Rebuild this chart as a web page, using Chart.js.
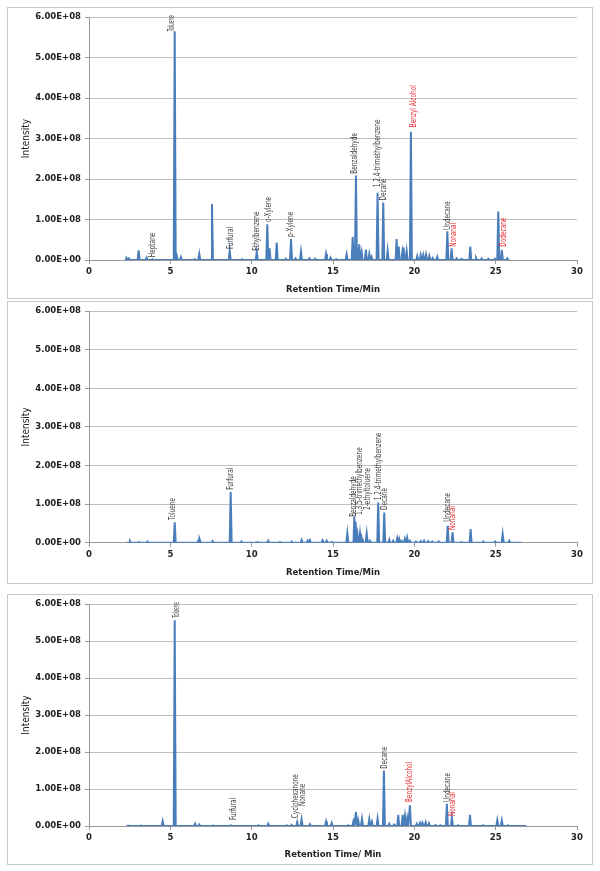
<!DOCTYPE html>
<html>
<head>
<meta charset="utf-8">
<script src="https://cdn.jsdelivr.net/npm/chart.js@4"></script>
<style>
  html, body { margin: 0; padding: 0; background: #fff; }
  body { width: 600px; height: 871px; position: relative; overflow: hidden; }
  .panel { position: absolute; left: 7px; width: 584px; border: 1px solid #c8c8c8; }
  .panel canvas { display: block; }
</style>
</head>
<body>
<div class="panel" id="box1" style="top:7px;height:290px"><canvas id="c1"></canvas></div>
<div class="panel" id="box2" style="top:301px;height:281px"><canvas id="c2"></canvas></div>
<div class="panel" id="box3" style="top:594px;height:269px"><canvas id="c3"></canvas></div>
<script>
// intensities below are in units of 1E+08
const UNIT = 1e8;
const Y_TICKS = [0, 1, 2, 3, 4, 5, 6];
const X_TICKS = [0, 5, 10, 15, 20, 25, 30];

// ── panel 1 ──────────────────────────────
const p1Range = [2.2, 25.85];
const p1Times = [2.30, 2.45, 3.05, 3.54, 3.90, 5.27, 5.40, 5.65, 6.50, 6.78, 7.56, 8.65, 9.40, 10.31, 10.96, 11.10, 11.54, 12.10, 12.42, 12.70,
  13.03, 13.55, 13.90, 14.57, 14.85, 15.20, 15.84, 16.21, 16.41, 16.61, 16.76, 17.02, 17.23, 17.37, 17.74, 18.09, 18.36, 18.91, 19.04, 19.26,
  19.36, 19.53, 19.79, 20.18, 20.39, 20.55, 20.72, 20.92, 21.13, 21.41, 22.03, 22.29, 22.60, 22.90, 23.44, 23.79, 24.14, 24.55, 24.96, 25.16,
  25.38, 25.71];
const p1Heights = [0.05, 0.04, 0.24, 0.06, 0.02, 5.65, 0.10, 0.07, 0.02, 0.15, 1.38, 0.23, 0.02, 0.20, 0.88, 0.29, 0.43, 0.03, 0.52, 0.04,
  0.21, 0.04, 0.03, 0.15, 0.06, 0.02, 0.14, 0.57, 2.09, 0.39, 0.20, 0.26, 0.15, 0.08, 1.66, 1.42, 0.23, 0.52, 0.33, 0.18,
  0.31, 0.22, 3.17, 0.10, 0.12, 0.12, 0.13, 0.10, 0.05, 0.08, 0.71, 0.29, 0.04, 0.03, 0.33, 0.05, 0.04, 0.03, 0.03, 1.20,
  0.25, 0.04];
const p1Names = ['Heptane', 'Toluene', 'Furfural', 'Ethylbenzene', 'o-Xylene', 'p-Xylene', 'Benzaldehyde', '1,2,4-trimethylbenzene', 'Decane', 'Benzyl Alcohol', 'Undecane', 'Nonanal', 'Dodecane'];
const p1NameT = [3.91, 5.12, 8.73, 10.31, 11.08, 12.42, 16.37, 17.74, 18.13, 19.98, 22.05, 22.42, 25.51];
const p1NameY = [0.07, 5.65, 0.27, 0.23, 0.94, 0.57, 2.13, 1.80, 1.47, 3.28, 0.74, 0.33, 0.33];
const p1Red = ['Benzyl Alcohol', 'Nonanal', 'Dodecane'];

// ── panel 2 ──────────────────────────────
const p2Range = [2.3, 26.6];
const p2Times = [2.52, 3.07, 3.60, 5.27, 6.72, 6.82, 7.60, 8.71, 9.38, 10.37, 11.02, 11.74, 12.46, 13.07, 13.44, 13.58, 14.36, 14.61, 14.92, 15.88,
  16.31, 16.41, 16.51, 16.66, 16.82, 17.07, 17.27, 17.78, 18.15, 18.46, 18.70, 18.95, 19.07, 19.22, 19.42, 19.56, 19.73, 20.10, 20.40, 20.60,
  20.85, 21.10, 21.50, 22.05, 22.35, 22.90, 23.46, 24.24, 24.96, 25.43, 25.84];
const p2Heights = [0.04, 0.02, 0.03, 0.53, 0.05, 0.09, 0.04, 1.31, 0.03, 0.02, 0.05, 0.02, 0.03, 0.07, 0.05, 0.07, 0.06, 0.05, 0.02, 0.24,
  0.67, 0.55, 0.20, 0.24, 0.08, 0.24, 0.05, 1.04, 0.78, 0.08, 0.05, 0.12, 0.10, 0.05, 0.10, 0.13, 0.05, 0.03, 0.04, 0.05,
  0.04, 0.03, 0.03, 0.44, 0.27, 0.02, 0.35, 0.03, 0.03, 0.22, 0.05];
const p2Names = ['Toluene', 'Furfural', 'Benzaldehyde', '1,3,5-trimethylbenzene', '2-ethyltoluene', '1,2,4-trimethylbenzene', 'Decane', 'Undecane', 'Nonanal'];
const p2NameT = [5.18, 8.71, 16.31, 16.66, 17.17, 17.80, 18.19, 22.05, 22.39];
const p2NameY = [0.59, 1.37, 0.67, 0.72, 0.85, 1.10, 0.85, 0.54, 0.33];
const p2Red = ['Nonanal'];

// ── panel 3 ──────────────────────────────
const p3Range = [2.3, 26.9];
const p3Times = [2.40, 3.20, 4.53, 5.27, 6.52, 6.78, 7.64, 8.72, 10.41, 11.02, 12.15, 12.46, 12.80, 13.07, 13.58, 14.57, 14.92, 15.94, 16.25, 16.41,
  16.55, 16.78, 17.23, 17.39, 17.74, 18.13, 18.46, 18.75, 19.01, 19.28, 19.42, 19.56, 19.73, 20.15, 20.35, 20.50, 20.70, 20.90, 21.30, 21.60,
  22.00, 22.31, 22.70, 23.42, 24.24, 25.10, 25.38, 25.77];
const p3Heights = [0.01, 0.01, 0.13, 5.56, 0.06, 0.04, 0.01, 0.02, 0.02, 0.06, 0.02, 0.03, 0.11, 0.18, 0.05, 0.12, 0.08, 0.02, 0.12, 0.38,
  0.15, 0.19, 0.18, 0.12, 0.20, 1.50, 0.06, 0.04, 0.30, 0.30, 0.27, 0.20, 0.56, 0.06, 0.08, 0.09, 0.10, 0.07, 0.03, 0.02,
  0.60, 0.23, 0.02, 0.30, 0.02, 0.16, 0.15, 0.02];
const p3Names = ['Toluene', 'Furfural', 'Cyclohexanone', 'Nonane', 'Decane', 'BenzylAlcohol', 'Undecane', 'Nonanal'];
const p3NameT = [5.43, 8.91, 12.70, 13.17, 18.19, 19.73, 22.08, 22.39];
const p3NameY = [5.63, 0.16, 0.21, 0.54, 1.55, 0.65, 0.65, 0.27];
const p3Red = ['BenzylAlcohol', 'Nonanal'];

const LINE = '#4a7ebb';
const GRID = '#c0c0c0';
const DARK = '#3a3a3a';
const RED = '#e8262a';
const LABEL_FONT = '"Liberation Sans Narrow", "DejaVu Sans Condensed", "Arial Narrow", sans-serif';

const sci = v => {
  if (v === 0) return '0.00E+00';
  const [m, e] = v.toExponential(2).split('e');
  const n = parseInt(e, 10);
  return m + 'E' + (n < 0 ? '-' : '+') + String(Math.abs(n)).padStart(2, '0');
};

// trace made of narrow peaks sitting on a zero baseline
const trace = (range, times, heights) => {
  const pts = [{ x: range[0], y: 0 }];
  times.forEach((t, i) => {
    const prev = i ? times[i - 1] : range[0];
    const next = i < times.length - 1 ? times[i + 1] : range[1];
    const w = Math.min(0.06, (t - prev) / 2, (next - t) / 2);
    pts.push({ x: t - w, y: 0 }, { x: t, y: heights[i] * UNIT }, { x: t + w, y: 0 });
  });
  pts.push({ x: range[1], y: 0 });
  return pts;
};

// rotated peak names, squeezed a bit like the narrow spreadsheet font
const peakLabels = {
  id: 'peakLabels',
  afterDatasetsDraw(chart, args, o) {
    const { ctx, chartArea, scales: { x, y } } = chart;
    ctx.save();
    ctx.font = `${o.size}px ${LABEL_FONT}`;
    ctx.textAlign = 'left';
    ctx.textBaseline = 'middle';
    o.names.forEach((name, i) => {
      const px = x.getPixelForValue(o.times[i]);
      const py = y.getPixelForValue(o.values[i] * UNIT);
      const w = ctx.measureText(name).width * o.squeeze;
      const room = py - (chartArea.top - 2);
      const sx = o.squeeze * (w > room ? room / w : 1);
      ctx.save();
      ctx.translate(px, py);
      ctx.rotate(-Math.PI / 2);
      ctx.scale(sx, 1);
      ctx.fillStyle = o.red.includes(name) ? RED : DARK;
      ctx.fillText(name, 0, 0);
      ctx.restore();
    });
    ctx.restore();
  }
};

const tickFont = { family: '"DejaVu Sans", Verdana, sans-serif', size: 8.5, weight: 'bold' };

const makePanel = (id, cfg) => {
  const cv = document.getElementById(id);
  cv.width = 584; cv.height = cfg.h;
  cv.style.width = '584px'; cv.style.height = cfg.h + 'px';
  return new Chart(cv, {
    type: 'line',
    data: {
      datasets: [{
        data: trace(cfg.range, cfg.times, cfg.heights),
        borderColor: LINE, borderWidth: 2, pointRadius: 0, tension: 0, fill: false
      }]
    },
    options: {
      responsive: false, animation: false, events: [],
      layout: { padding: { top: cfg.top, right: 15, bottom: 0, left: 0 } },
      plugins: {
        legend: { display: false }, tooltip: { enabled: false },
        peakLabels: { names: cfg.names, times: cfg.nameT, values: cfg.nameY, red: cfg.red, size: 8, squeeze: 0.8 }
      },
      scales: {
        x: {
          type: 'linear', min: 0, max: 30,
          afterBuildTicks: s => { s.ticks = X_TICKS.map(v => ({ value: v })); },
          afterFit: s => { s.height = cfg.axisH; },
          ticks: { color: '#222', font: tickFont, padding: 3, maxRotation: 0 },
          grid: { drawOnChartArea: false, drawTicks: true, tickLength: 4, color: '#999' },
          border: { color: '#999' },
          title: { display: true, text: cfg.xTitle, color: '#222', font: tickFont, padding: { top: 0, bottom: cfg.titlePad } }
        },
        y: {
          min: 0, max: 6 * UNIT,
          afterBuildTicks: s => { s.ticks = Y_TICKS.map(v => ({ value: v * UNIT })); },
          afterFit: s => { s.width = 81; },
          ticks: { color: '#222', font: tickFont, padding: 4, callback: v => sci(v) },
          grid: { color: GRID, tickLength: 4, tickColor: '#999' },
          border: { color: '#999' },
          title: { display: true, text: 'Intensity', color: '#222', font: { family: LABEL_FONT, size: 10 }, padding: { top: 12, bottom: 0 } }
        }
      }
    },
    plugins: [peakLabels]
  });
};

makePanel('c1', { h: 290, top: 8, axisH: 38, titlePad: 3, xTitle: 'Retention Time/Min', range: p1Range, times: p1Times, heights: p1Heights,
  names: p1Names, nameT: p1NameT, nameY: p1NameY, red: p1Red });
makePanel('c2', { h: 281, top: 9, axisH: 40.3, titlePad: 5, xTitle: 'Retention Time/Min', range: p2Range, times: p2Times, heights: p2Heights,
  names: p2Names, nameT: p2NameT, nameY: p2NameY, red: p2Red });
makePanel('c3', { h: 269, top: 7, axisH: 38, titlePad: 4, xTitle: 'Retention Time/ Min', range: p3Range, times: p3Times, heights: p3Heights,
  names: p3Names, nameT: p3NameT, nameY: p3NameY, red: p3Red });
</script>
</body>
</html>
